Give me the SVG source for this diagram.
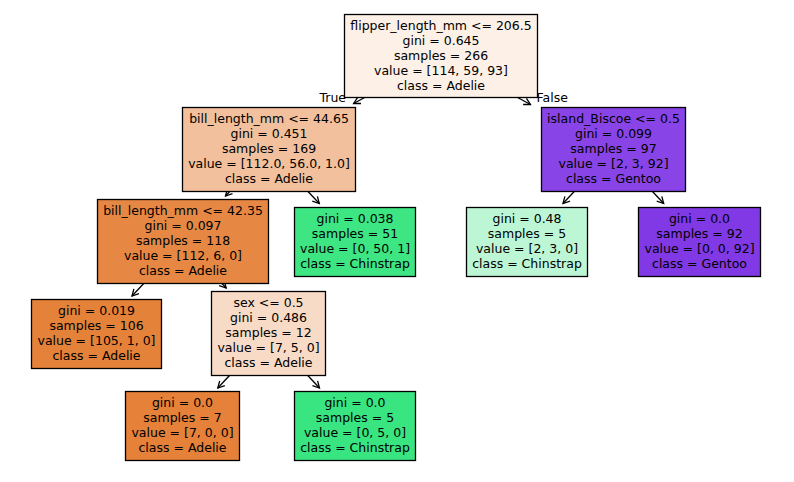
<svg xmlns="http://www.w3.org/2000/svg" width="794" height="482" viewBox="0 0 794 482">
<style>
text{font-family:"DejaVu Sans","Liberation Sans",sans-serif;font-size:12.5px;fill:#000;}
.n text{text-anchor:middle;}
.box{stroke:#000;stroke-width:1.3;}
.edge{stroke:#000;stroke-width:1.3;fill:none;marker-end:url(#ah);}
</style>
<defs>
<marker id="ah" viewBox="-9 -6 12 12" refX="0" refY="0" markerWidth="12" markerHeight="12" markerUnits="userSpaceOnUse" orient="auto">
<path d="M-6.5,-3.5 L0,0 L-6.5,3.5" fill="none" stroke="#000" stroke-width="1.3"/>
</marker>
</defs>
<rect width="794" height="482" fill="#fff"/>
<g id="connectors">
<line class="edge" x1="364.7" y1="97.5" x2="353.6" y2="103.5"/>
<line class="edge" x1="517.6" y1="97.5" x2="530.5" y2="104.5"/>
<line class="edge" x1="229.7" y1="191.5" x2="225.5" y2="196"/>
<line class="edge" x1="308" y1="191.5" x2="319.3" y2="203.5"/>
<line class="edge" x1="143.7" y1="283.5" x2="132" y2="296"/>
<line class="edge" x1="222" y1="283.5" x2="226.2" y2="288"/>
<line class="edge" x1="229.5" y1="375.5" x2="217.8" y2="388"/>
<line class="edge" x1="307.8" y1="375.5" x2="319.5" y2="388"/>
<line class="edge" x1="574.2" y1="191.5" x2="563" y2="203.5"/>
<line class="edge" x1="652.5" y1="191.5" x2="663.7" y2="203.5"/>
<text x="346" y="101.5" text-anchor="end">True</text>
<text x="536.5" y="101.5">False</text>
</g>
<g id="root" class="n">
<rect class="box" x="344.5" y="14.5" width="193" height="83" fill="#fcf0e7"/>
<text x="441" y="29.5">flipper_length_mm &lt;= 206.5</text>
<text x="441" y="44.5">gini = 0.645</text>
<text x="441" y="59.5">samples = 266</text>
<text x="441" y="74.5">value = [114, 59, 93]</text>
<text x="441" y="89.5">class = Adelie</text>
</g>
<g id="n_bill_44" class="n">
<rect class="box" x="182.5" y="107.5" width="173" height="84" fill="#f2c09c"/>
<text x="269" y="122.5">bill_length_mm &lt;= 44.65</text>
<text x="269" y="137.5">gini = 0.451</text>
<text x="269" y="152.5">samples = 169</text>
<text x="269" y="167.5">value = [112.0, 56.0, 1.0]</text>
<text x="269" y="182.5">class = Adelie</text>
</g>
<g id="n_island" class="n">
<rect class="box" x="541.5" y="107.5" width="144" height="84" fill="#8844e6"/>
<text x="613.5" y="122.5">island_Biscoe &lt;= 0.5</text>
<text x="613.5" y="137.5">gini = 0.099</text>
<text x="613.5" y="152.5">samples = 97</text>
<text x="613.5" y="167.5">value = [2, 3, 92]</text>
<text x="613.5" y="182.5">class = Gentoo</text>
</g>
<g id="n_bill_42" class="n">
<rect class="box" x="97.5" y="199.5" width="171" height="84" fill="#e68844"/>
<text x="183" y="214.5">bill_length_mm &lt;= 42.35</text>
<text x="183" y="229.5">gini = 0.097</text>
<text x="183" y="244.5">samples = 118</text>
<text x="183" y="259.5">value = [112, 6, 0]</text>
<text x="183" y="274.5">class = Adelie</text>
</g>
<g id="leaf_chin51" class="n">
<rect class="box" x="294.5" y="207.5" width="121" height="69" fill="#3de583"/>
<text x="355" y="222.5">gini = 0.038</text>
<text x="355" y="237.5">samples = 51</text>
<text x="355" y="252.5">value = [0, 50, 1]</text>
<text x="355" y="267.5">class = Chinstrap</text>
</g>
<g id="leaf_chin5a" class="n">
<rect class="box" x="466.5" y="207.5" width="121" height="69" fill="#bdf6d5"/>
<text x="527" y="222.5">gini = 0.48</text>
<text x="527" y="237.5">samples = 5</text>
<text x="527" y="252.5">value = [2, 3, 0]</text>
<text x="527" y="267.5">class = Chinstrap</text>
</g>
<g id="leaf_gentoo" class="n">
<rect class="box" x="638.5" y="207.5" width="122" height="69" fill="#8139e5"/>
<text x="699.5" y="222.5">gini = 0.0</text>
<text x="699.5" y="237.5">samples = 92</text>
<text x="699.5" y="252.5">value = [0, 0, 92]</text>
<text x="699.5" y="267.5">class = Gentoo</text>
</g>
<g id="leaf_adelie106" class="n">
<rect class="box" x="31.5" y="299.5" width="130" height="69" fill="#e5823a"/>
<text x="96.5" y="314.5">gini = 0.019</text>
<text x="96.5" y="329.5">samples = 106</text>
<text x="96.5" y="344.5">value = [105, 1, 0]</text>
<text x="96.5" y="359.5">class = Adelie</text>
</g>
<g id="n_sex" class="n">
<rect class="box" x="211.5" y="291.5" width="114" height="84" fill="#f8dbc6"/>
<text x="268.5" y="306.5">sex &lt;= 0.5</text>
<text x="268.5" y="321.5">gini = 0.486</text>
<text x="268.5" y="336.5">samples = 12</text>
<text x="268.5" y="351.5">value = [7, 5, 0]</text>
<text x="268.5" y="366.5">class = Adelie</text>
</g>
<g id="leaf_adelie7" class="n">
<rect class="box" x="125.5" y="391.5" width="114" height="69" fill="#e58139"/>
<text x="182.5" y="406.5">gini = 0.0</text>
<text x="182.5" y="421.5">samples = 7</text>
<text x="182.5" y="436.5">value = [7, 0, 0]</text>
<text x="182.5" y="451.5">class = Adelie</text>
</g>
<g id="leaf_chin5b" class="n">
<rect class="box" x="294.5" y="391.5" width="121" height="69" fill="#39e581"/>
<text x="355" y="406.5">gini = 0.0</text>
<text x="355" y="421.5">samples = 5</text>
<text x="355" y="436.5">value = [0, 5, 0]</text>
<text x="355" y="451.5">class = Chinstrap</text>
</g>
</svg>
